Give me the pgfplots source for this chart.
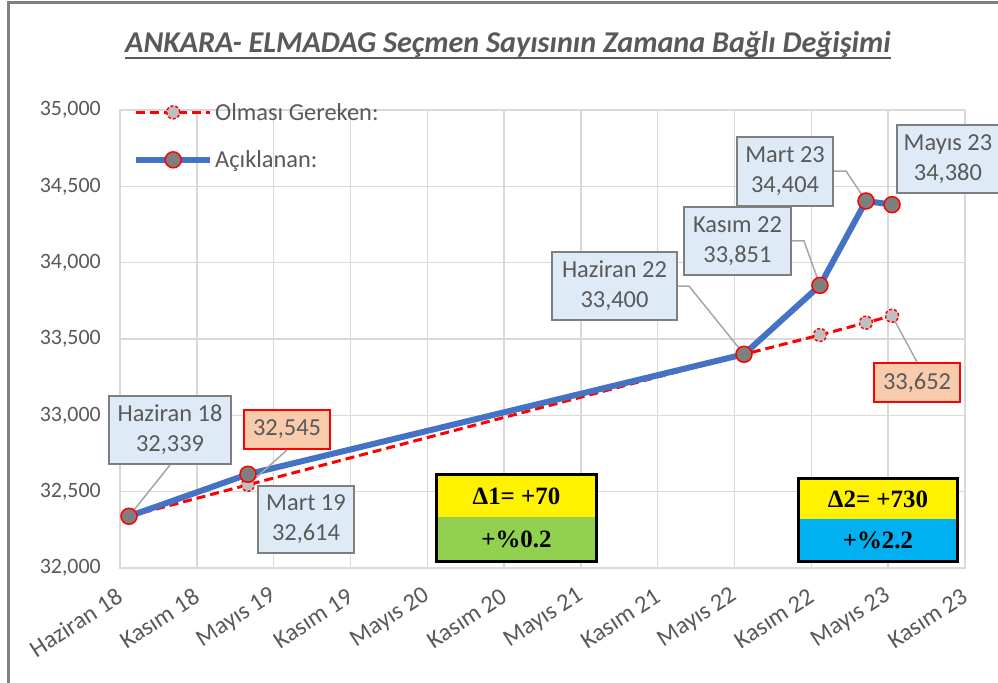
\documentclass[border=0pt]{standalone}
\usepackage{pgfplots}
\pgfplotsset{compat=1.18}
\usepackage{fontspec}
\setmainfont{Carlito}
\newfontfamily\timesf{Liberation Serif}
\definecolor{txtgray}{HTML}{595959}
\definecolor{gridgray}{HTML}{D9D9D9}
\definecolor{bluel}{HTML}{4472C4}
\definecolor{mgray}{HTML}{7F7F7F}
\definecolor{lgray}{HTML}{BFBFBF}
\definecolor{boxblue}{HTML}{DEEBF7}
\definecolor{boxpeach}{HTML}{F8CBAD}
\definecolor{ygreen}{HTML}{92D050}
\definecolor{ycyan}{HTML}{00B0F0}
\definecolor{framec}{HTML}{808080}
\definecolor{leaderc}{HTML}{A6A6A6}
\tikzset{
  lbl/.style={draw=mgray, line width=2bp, fill=boxblue, text=txtgray, align=center, inner sep=0pt,
    font=\fontsize{24.5}{30}\selectfont},
  rbx/.style={draw=red, line width=2bp, fill=boxpeach, text=txtgray, align=center, inner sep=0pt,
    font=\fontsize{24.5}{30}\selectfont, minimum width=86bp, minimum height=39bp},
  ldr/.style={leaderc, line width=1.5bp},
  dbx/.style={inner sep=0pt, font=\timesf\bfseries\fontsize{25}{27}\selectfont, text=black}
}
\begin{document}
\begin{tikzpicture}
\useasboundingbox (-120bp,-115bp) rectangle (878bp,568bp);
\clip (-120bp,-115bp) rectangle (878bp,568bp);
\fill[white] (-120bp,-115bp) rectangle (878bp,568bp);
\begin{axis}[
  at={(0,0)}, anchor=south west,
  scale only axis, width=845bp, height=458bp,
  clip=false,
  xmin=0, xmax=11, ymin=32000, ymax=35000,
  xtick={0,...,11},
  xticklabels={Haziran 18, Kasım 18, Mayıs 19, Kasım 19, Mayıs 20, Kasım 20, Mayıs 21, Kasım 21, Mayıs 22, Kasım 22, Mayıs 23, Kasım 23},
  ytick={32000,32500,...,35000},
  grid=major, major grid style={gridgray, line width=1.5bp},
  axis line style={gridgray, line width=1.5bp},
  major tick length=0pt,
  tick label style={font=\fontsize{22}{24}\selectfont, text=txtgray},
  xticklabel style={font=\fontsize{24.5}{26}\selectfont, rotate=33, anchor=east, inner sep=0pt},
  xticklabel shift=26bp,
  yticklabel style={anchor=east, inner sep=0pt},
  yticklabel shift=19bp,
  scaled y ticks=false,
  /pgf/number format/1000 sep={,},
  /pgf/number format/assume math mode=true,
  legend style={at={(axis description cs:0.0154,0.943)}, anchor=west, draw=none, fill=none,
    inner sep=0pt, row sep=29bp, column sep=2bp, font=\fontsize{24.5}{26}\selectfont, text=txtgray,
    nodes={inner sep=0pt}},
  legend cell align=left,
  legend image code/.code={\draw[mark repeat=2,mark phase=2,#1] plot coordinates {(0bp,0bp) (37bp,0bp) (74bp,0bp)};},
]
\addplot[red, line width=3bp, dash pattern=on 9bp off 5bp, mark=*, mark size=6.5bp,
  mark options={fill=lgray, draw=red, line width=1.5bp, dash pattern=on 3bp off 2bp}]
  coordinates {(0.117,32339) (1.666,32545) (8.123,33400) (9.112,33526) (9.711,33607) (10.05,33652)};
\addlegendentry{Olması Gereken:}
\addplot[bluel, line width=6bp, mark=*, mark size=8bp,
  mark options={fill=mgray, draw=red, line width=1.5bp, solid}]
  coordinates {(0.117,32339) (1.666,32614) (8.123,33400) (9.112,33851) (9.711,34404) (10.05,34380)};
\addlegendentry{Açıklanan:}

\node[lbl, minimum width=122bp, minimum height=68bp] (h18) at (axis cs:0.651,32904) {Haziran 18\\32,339};
\node[rbx] (r1) at (axis cs:2.174,32907) {32,545};
\node[lbl, minimum width=96bp, minimum height=67bp] (m19) at (axis cs:2.421,32318) {Mart 19\\32,614};
\node[lbl, minimum width=125bp, minimum height=68bp] (h22) at (axis cs:6.437,33847) {Haziran 22\\33,400};
\node[lbl, minimum width=107bp, minimum height=68bp] (k22) at (axis cs:8.038,34142) {Kasım 22\\33,851};
\node[lbl, minimum width=96bp, minimum height=69bp] (m23) at (axis cs:8.657,34600) {Mart 23\\34,404};
\node[lbl, minimum width=102bp, minimum height=68bp] (my23) at (axis cs:10.778,34679) {Mayıs 23\\34,380};
\node[rbx] (r2) at (axis cs:10.375,33215) {33,652};

\draw[ldr] (h18.south) -- (axis cs:0.117,32339);
\draw[ldr] (r1.south) -- (axis cs:1.666,32545);
\draw[ldr] (h22.east) -- ++(11bp,0bp) -- (axis cs:8.123,33400);
\draw[ldr] (k22.east) -- ++(12bp,0bp) -- (axis cs:9.112,33851);
\draw[ldr] (m23.east) -- ++(12bp,0bp) -- (axis cs:9.711,34404);
\draw[ldr] (r2.north) -- (axis cs:10.05,33652);

\node[dbx, fill=yellow, minimum width=159bp, minimum height=42bp] (d1a) at (axis cs:5.161,32472) {Δ1= +70};
\node[dbx, fill=ygreen, minimum width=159bp, minimum height=44bp, anchor=north] (d1b) at (d1a.south) {+\%0.2};
\draw[black, line width=3bp] (d1a.north west) rectangle (d1b.south east);
\node[dbx, fill=yellow, minimum width=158bp, minimum height=40bp] (d2a) at (axis cs:9.867,32452) {Δ2= +730};
\node[dbx, fill=ycyan, minimum width=158bp, minimum height=42bp, anchor=north] (d2b) at (d2a.south) {+\%2.2};
\draw[black, line width=3bp] (d2a.north west) rectangle (d2b.south east);
\end{axis}
\node[anchor=base, inner sep=0pt, font=\bfseries\itshape\fontsize{30.3}{32}\selectfont, text=txtgray] (title) at (388bp,515bp) {ANKARA- ELMADAG Seçmen Sayısının Zamana Bağlı Değişimi};
\draw[txtgray, line width=2bp] ([yshift=-5bp]title.base west) -- ([yshift=-5bp]title.base east);
\draw[framec, line width=3bp] (-111bp,-130bp) -- (-111bp,565bp) -- (900bp,565bp);
\end{tikzpicture}
\end{document}
